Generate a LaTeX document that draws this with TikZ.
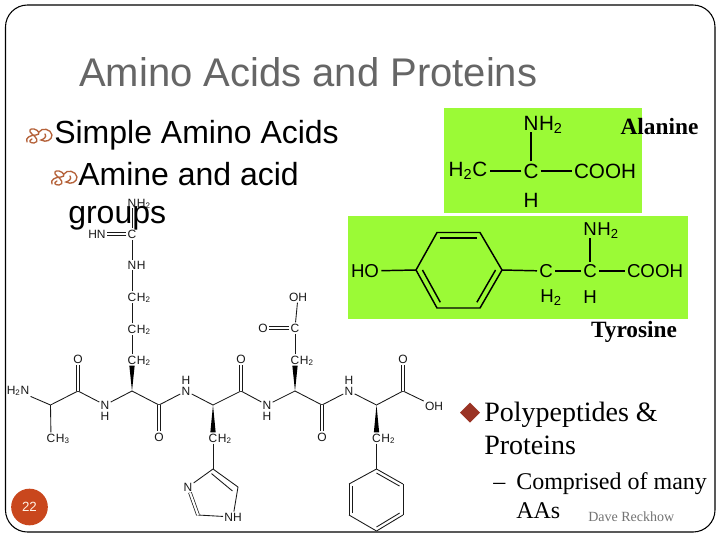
\documentclass[tikz,border=0pt]{standalone}
\usepackage{fontspec}
\setmainfont{Liberation Sans}
\newfontfamily\timesfont{Liberation Serif}
\usetikzlibrary{calc}
\definecolor{titlegrey}{HTML}{666666}
\definecolor{leafgreen}{HTML}{9BFA36}
\definecolor{badgeorange}{HTML}{C9471D}
\definecolor{curlbrown}{HTML}{B5623A}
\definecolor{diamondred}{HTML}{9A3324}
\tikzset{
    frame/.style={draw=black,line width=.8pt,rounded corners=16.5pt},
    bond/.style={line width=.65pt,black!90},
    dbond/.style={double=white,double distance=1.6pt,line width=.55pt,draw=black!90},
    atom/.style={font=\fontsize{9}{10}\selectfont,inner sep=.8pt,text=black!90},
    tail/.style={atom,anchor=base west,inner xsep=0pt,xshift=-.8pt},
    bigbond/.style={line width=1.1pt},
    alatom/.style={font=\fontsize{15.5}{17}\selectfont,inner sep=1.5pt},
    altail/.style={alatom,anchor=base west,inner xsep=0pt,xshift=-1.5pt},
    bigatom/.style={font=\fontsize{14}{16}\selectfont,inner sep=1.5pt},
    bigtail/.style={bigatom,anchor=base west,inner xsep=0pt,xshift=-1.5pt},
    headline/.style={font=\fontsize{30}{33}\selectfont,text=titlegrey,anchor=base west,inner sep=0pt},
    bodytext/.style={font=\fontsize{24}{28}\selectfont,anchor=base west,inner sep=0pt},
    serifbody/.style={font=\timesfont\fontsize{21}{24}\selectfont,anchor=base west,inner sep=0pt},
    serifsub/.style={font=\timesfont\fontsize{18}{22}\selectfont,anchor=base west,inner sep=0pt},
    aminolabel/.style={font=\timesfont\bfseries\fontsize{17.5}{20}\selectfont},
    curlbullet/.pic={
        \draw[curlbrown,line width=1pt,line cap=round]
            (0,14) .. controls (-2,10) and (3,7) .. (9,7)
            .. controls (14,7) and (12,2) .. (7,1)
            .. controls (3,0) and (1,3) .. (5,6)
            .. controls (9,9) and (13,14) .. (7,15)
            .. controls (3,15) and (1,13) .. (5,11)
            (12,4) .. controls (15,-1) and (24,1) .. (25,7)
            .. controls (25,12) and (19,15) .. (14,12)
            .. controls (17,11) and (20,9) .. (18,6);
    },
}
\begin{document}
\begin{tikzpicture}[x=.75pt,y=-.75pt]
    \useasboundingbox (0,0) rectangle (720,540);
    \fill[white] (0,0) rectangle (720,540);
    \draw[frame] (5.5,5) rectangle (715,532);

    \node[headline] (title) at (79,86) {Amino Acids and Proteins};
    \node[bodytext] (simple) at (54,143) {Simple Amino Acids};
    \node[bodytext] (amine) at (78,185) {Amine and acid};
    \node[bodytext] (groups) at (68,223) {groups};
    \pic at (27,128) {curlbullet};
    \pic at (52,170) {curlbullet};

    % alanine box
    \fill[leafgreen] (444,108) rectangle (642,213);
    \node[alatom] (alaC) at (531,171) {C};
    \node[alatom] (alaN) at (531,123) {N};
    \node[altail] at (alaN.base east) {H\textsubscript{2}};
    \node[alatom] (alaL) at (468,171) {H\textsubscript{2}C};
    \node[alatom] (alaR) at (605,171) {COOH};
    \node[alatom] (alaH) at (531,200) {H};
    \foreach \a in {alaN,alaL,alaR}
        \draw[bigbond] (alaC) -- (\a);
    \node[aminolabel] (alanine) at (659.5,127) {Alanine};

    % tyrosine box
    \fill[leafgreen] (348,216) rectangle (688,319);
    \coordinate (tc) at (459,270);
    \coordinate (r1) at (416,270);
    \coordinate (r2) at (437,232.5);
    \coordinate (r3) at (480,232.5);
    \coordinate (r4) at (502,270);
    \coordinate (r5) at (480,308);
    \coordinate (r6) at (437,308);
    \draw[bigbond] (r1) -- (r2) -- (r3) -- (r4) -- (r5) -- (r6) -- cycle;
    \foreach \a/\b in {r2/r3,r4/r5,r6/r1}
        \draw[bigbond] ($(\a)!.15!(tc)$) -- ($(\b)!.15!(tc)$);
    \node[bigatom] (tyrO) at (365,271) {HO};
    \node[bigatom] (tyrA) at (546,271) {C};
    \node[bigatom] (tyrB) at (590,271) {C};
    \node[bigatom] (tyrN) at (590,229) {N};
    \node[bigtail] at (tyrN.base east) {H\textsubscript{2}};
    \node[bigatom] (tyrR) at (655,271) {COOH};
    \node[bigatom] (tyrS) at (551,298) {H\textsubscript{2}};
    \node[bigatom] (tyrH) at (590,297) {H};
    \foreach \a/\b in {tyrO/r1,r4/tyrA,tyrA/tyrB,tyrB/tyrN,tyrB/tyrR}
        \draw[bigbond] (\a) -- (\b);
    \node[aminolabel] (tyrosine) at (634,332) {Tyrosine};

    % peptide backbone
    \node[atom] (nterm) at (18,391) {H\textsubscript{2}N};
    \coordinate (ca1) at (50.5,405);
    \node[atom] (me) at (51,438) {C};
    \node[tail] at (me.base east) {H\textsubscript{3}};
    \coordinate (cb1) at (78,391);
    \node[atom] (oxa) at (78,359) {O};
    \node[atom] (n1) at (105,405) {N};
    \node[atom] (h1) at (105,416) {H};
    \coordinate (ca2) at (132,391);
    \coordinate (cb2) at (159,405);
    \node[atom] (oxb) at (159,437) {O};
    \node[atom] (n2) at (186,391) {N};
    \node[atom] (h2) at (186,380) {H};
    \coordinate (ca3) at (213,405);
    \coordinate (cb3) at (241,391);
    \node[atom] (oxc) at (241,359) {O};
    \node[atom] (n3) at (267,405) {N};
    \node[atom] (h3) at (267,416) {H};
    \coordinate (ca4) at (295,391);
    \coordinate (cb4) at (322,405);
    \node[atom] (oxd) at (322,437) {O};
    \node[atom] (n4) at (349,391) {N};
    \node[atom] (h4) at (349,380) {H};
    \coordinate (ca5) at (376.5,405);
    \coordinate (cb5) at (403,391);
    \node[atom] (oxe) at (403,359) {O};
    \node[atom] (oh) at (434,406) {OH};

    % side chains
    \node[atom] (ch2) at (132,360) {C};
    \node[tail] at (ch2.base east) {H\textsubscript{2}};
    \node[atom] (ch2b) at (132,329) {C};
    \node[tail] at (ch2b.base east) {H\textsubscript{2}};
    \node[atom] (ch2c) at (132,297) {C};
    \node[tail] at (ch2c.base east) {H\textsubscript{2}};
    \node[atom] (nh) at (132,265) {N};
    \node[tail] at (nh.base east) {H};
    \node[atom] (guan) at (132,234) {C};
    \node[atom] (imine) at (97,234) {HN};
    \node[atom] (nh2) at (132,203) {N};
    \node[tail] at (nh2.base east) {H\textsubscript{2}};
    \node[atom] (ch3) at (213,438) {C};
    \node[tail] at (ch3.base east) {H\textsubscript{2}};
    \node[atom] (ch4) at (295,360) {C};
    \node[tail] at (ch4.base east) {H\textsubscript{2}};
    \node[atom] (acidC) at (295,328) {C};
    \node[atom] (acidO) at (263,328) {O};
    \node[atom] (acidH) at (298,297) {OH};
    \node[atom] (ch5) at (376.5,438) {C};
    \node[tail] at (ch5.base east) {H\textsubscript{2}};

    % imidazole ring
    \coordinate (im1) at (213,469);
    \coordinate (im2) at (238,487);
    \coordinate (im3) at (198,515);
    \node[atom] (imN) at (188,487) {N};
    \node[atom] (imH) at (233,517) {NH};

    % phenyl ring
    \coordinate (pc) at (376.5,500);
    \coordinate (p1) at (376.5,469);
    \coordinate (p2) at (403,484);
    \coordinate (p3) at (403,515);
    \coordinate (p4) at (376.5,531);
    \coordinate (p5) at (349,515);
    \coordinate (p6) at (349,484);

    \foreach \a/\b in {nterm/ca1,ca1/me,ca1/cb1,cb1/n1,n1/ca2,ca2/cb2,cb2/n2,n2/ca3,ca3/cb3,
        cb3/n3,n3/ca4,ca4/cb4,cb4/n4,n4/ca5,ca5/cb5,cb5/oh,ch2/ch2b,ch2b/ch2c,ch2c/nh,nh/guan,
        guan/nh2,ch4/acidC,acidC/acidH,ch3/im1,im1/imN,im3/imH,imH/im2,ch5/p1,
        p1/p2,p2/p3,p3/p4,p4/p5,p5/p6,p6/p1}
        \draw[bond] (\a) -- (\b);
    \foreach \a/\b in {guan/imine,acidC/acidO,imN/im3,cb1/oxa,cb2/oxb,cb3/oxc,cb4/oxd,cb5/oxe}
        \draw[dbond] (\a) -- (\b);
    \draw[bond] (im1) -- (im2) ($(im1)!.1!(im3)$) -- ($(im2)!.14!(im3)$);
    \foreach \a/\b in {p1/p2,p3/p4,p5/p6}
        \draw[bond] ($(\a)!.13!(pc)$) -- ($(\b)!.13!(pc)$);
    \foreach \a/\b/\c in {ca2/ch2/south,ca3/ch3/north,ca4/ch4/south,ca5/ch5/north}
        \fill[black] (\a) -- ([xshift=-2pt]\b.\c) -- ([xshift=2pt]\b.\c) -- cycle;

    % right hand text
    \fill[diamondred] (460,412.5) -- (470,402.5) -- (480,412.5) -- (470,422.5) -- cycle;
    \node[serifbody] (poly) at (484,421) {Polypeptides \&};
    \node[serifbody] (prot) at (484,454) {Proteins};
    \node[serifsub] (dash) at (493,489) {–};
    \node[serifsub] (comp) at (516,489) {Comprised of many};
    \node[serifsub] (aas) at (516,518) {AAs};
    \node[font=\timesfont\fontsize{10.5}{12}\selectfont,text=black!55,anchor=base west,inner sep=0pt] (author) at (588,521) {Dave Reckhow};

    % slide number
    \node[circle,fill=badgeorange,minimum size=27.5pt,inner sep=0pt,text=white!90!orange,font=\fontsize{10}{12}\selectfont] (badge) at (29.5,507) {22};
\end{tikzpicture}
\end{document}
